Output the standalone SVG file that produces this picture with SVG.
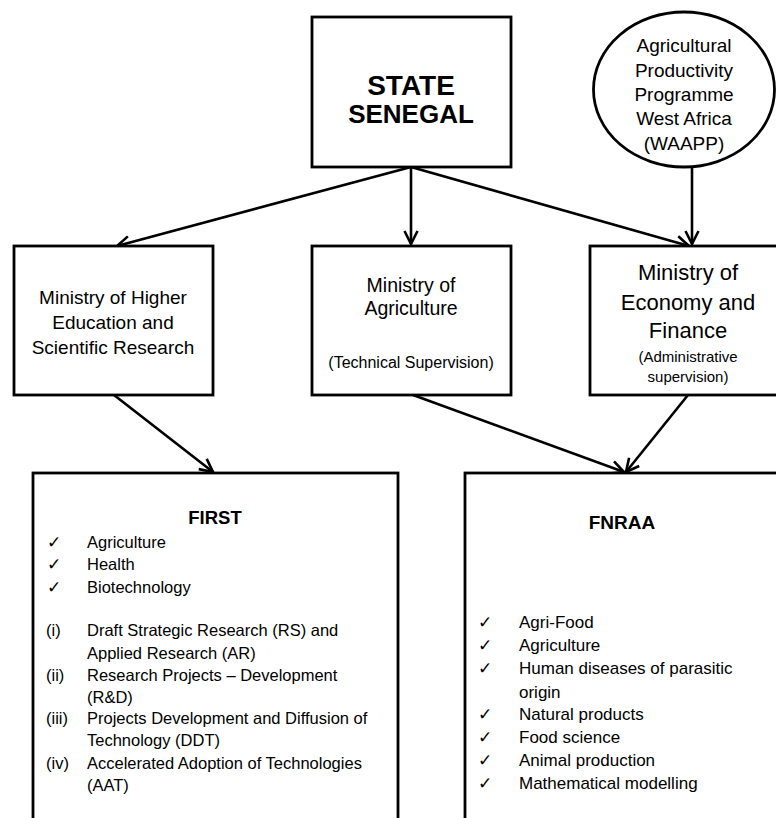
<svg xmlns="http://www.w3.org/2000/svg" width="776" height="818" viewBox="0 0 776 818">
<style>
  .box { fill: #fff; stroke: #000; stroke-width: 2.8; }
  .t { font-family: "Liberation Sans", Arial, sans-serif; fill: #000; }
  .c { text-anchor: middle; }
  .b { font-weight: bold; }
  .conn { stroke: #000; stroke-width: 2.6; fill: none; marker-end: url(#arr); }
  .chk { font-family: "DejaVu Sans", sans-serif; font-size: 17px; fill: #000; }
</style>
<defs>
  <marker id="arr" markerUnits="userSpaceOnUse" viewBox="0 0 16 16" markerWidth="16" markerHeight="16" refX="14.5" refY="8" orient="auto">
    <path d="M1.5,1.5 L14.5,8 L1.5,14.5" fill="none" stroke="#000" stroke-width="2.6" stroke-linejoin="miter"/>
  </marker>
</defs>
<rect width="776" height="818" fill="#fff"/>

<g id="connectors">
  <line class="conn" x1="411" y1="167" x2="117" y2="246"/>
  <line class="conn" x1="411" y1="167" x2="411" y2="244"/>
  <line class="conn" x1="411" y1="167" x2="689" y2="246"/>
  <line class="conn" x1="692" y1="167" x2="692" y2="244"/>
  <line class="conn" x1="114" y1="395" x2="213" y2="472"/>
  <line class="conn" x1="413" y1="395" x2="624" y2="472"/>
  <line class="conn" x1="688" y1="395" x2="626" y2="472"/>
</g>

<g id="state">
  <rect class="box" x="312" y="17" width="199" height="150"/>
  <text class="t c b" x="411" y="94.5" font-size="28">STATE</text>
  <text class="t c b" x="411" y="122.5" font-size="26">SENEGAL</text>
</g>

<g id="waapp">
  <ellipse class="box" cx="684" cy="89.5" rx="90.5" ry="77.5"/>
  <text class="t c" x="684" y="51.7" font-size="19">Agricultural</text>
  <text class="t c" x="684" y="76.5" font-size="19">Productivity</text>
  <text class="t c" x="684" y="100.5" font-size="19">Programme</text>
  <text class="t c" x="684" y="125" font-size="19">West Africa</text>
  <text class="t c" x="684" y="149.5" font-size="19">(WAAPP)</text>
</g>

<g id="min-higher-ed">
  <rect class="box" x="14" y="246" width="199" height="149"/>
  <text class="t c" x="113" y="303.5" font-size="19">Ministry of Higher</text>
  <text class="t c" x="113" y="328.5" font-size="19">Education and</text>
  <text class="t c" x="113" y="353.5" font-size="19">Scientific Research</text>
</g>

<g id="min-agriculture">
  <rect class="box" x="312" y="246" width="199" height="149"/>
  <text class="t c" x="411" y="292" font-size="19.5">Ministry of</text>
  <text class="t c" x="411" y="315" font-size="19.5">Agriculture</text>
  <text class="t c" x="411" y="367.5" font-size="16">(Technical Supervision)</text>
</g>

<g id="min-economy">
  <rect class="box" x="590" y="246" width="200" height="149"/>
  <text class="t c" x="688" y="279.5" font-size="22">Ministry of</text>
  <text class="t c" x="688" y="309.5" font-size="22">Economy and</text>
  <text class="t c" x="688" y="337.5" font-size="22">Finance</text>
  <text class="t c" x="688" y="362" font-size="15">(Administrative</text>
  <text class="t c" x="688" y="382" font-size="15">supervision)</text>
</g>

<g id="first">
  <rect class="box" x="33" y="473" width="365" height="360"/>
  <text class="t c b" x="215" y="523.5" font-size="18.5">FIRST</text>
  <text class="chk" x="47" y="548">✓</text>
  <text class="chk" x="47" y="570">✓</text>
  <text class="chk" x="47" y="593">✓</text>
  <g class="t" font-size="16.5">
    <text x="87" y="548">Agriculture</text>
    <text x="87" y="570">Health</text>
    <text x="87" y="593">Biotechnology</text>
    <text x="46" y="636">(i)</text>
    <text x="87" y="636">Draft Strategic Research (RS) and</text>
    <text x="87" y="659">Applied Research (AR)</text>
    <text x="46" y="681">(ii)</text>
    <text x="87" y="681">Research Projects – Development</text>
    <text x="87" y="703">(R&amp;D)</text>
    <text x="46" y="724">(iii)</text>
    <text x="87" y="724">Projects Development and Diffusion of</text>
    <text x="87" y="746">Technology (DDT)</text>
    <text x="46" y="769">(iv)</text>
    <text x="87" y="769">Accelerated Adoption of Technologies</text>
    <text x="87" y="791">(AAT)</text>
  </g>
</g>

<g id="fnraa">
  <rect class="box" x="465" y="473" width="330" height="360"/>
  <text class="t c b" x="622" y="529" font-size="19">FNRAA</text>
  <text class="chk" x="478" y="628">✓</text>
  <text class="chk" x="478" y="651">✓</text>
  <text class="chk" x="478" y="674">✓</text>
  <text class="chk" x="478" y="720">✓</text>
  <text class="chk" x="478" y="743">✓</text>
  <text class="chk" x="478" y="766">✓</text>
  <text class="chk" x="478" y="789">✓</text>
  <g class="t" font-size="17">
    <text x="519" y="628">Agri-Food</text>
    <text x="519" y="651">Agriculture</text>
    <text x="519" y="674">Human diseases of parasitic</text>
    <text x="519" y="698">origin</text>
    <text x="519" y="720">Natural products</text>
    <text x="519" y="743">Food science</text>
    <text x="519" y="766">Animal production</text>
    <text x="519" y="789">Mathematical modelling</text>
  </g>
</g>
</svg>
